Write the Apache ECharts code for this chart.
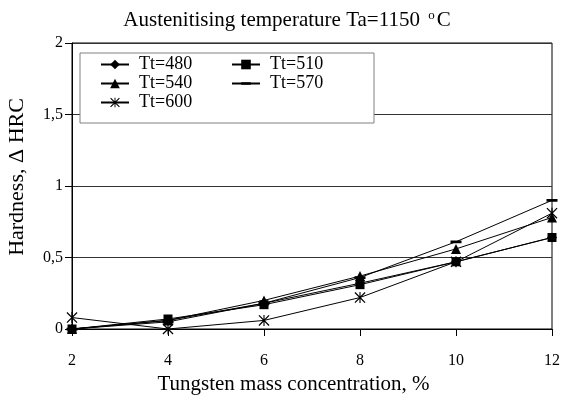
<!DOCTYPE html>
<html>
<head>
<meta charset="utf-8">
<script src="https://cdn.jsdelivr.net/npm/echarts@6/dist/echarts.min.js"></script>
<style>
  html, body { margin: 0; padding: 0; background: #fff; }
  #chart { width: 564px; height: 395px; }
</style>
</head>
<body>
<div id="chart"></div>
<script>
// Tungsten mass concentration, %
const tungsten = [2, 4, 6, 8, 10, 12];

// Hardness increase, delta HRC, for each tempering temperature Tt
const tt480 = [0, 0.06, 0.18, 0.32, 0.47, 0.64];
const tt510 = [0, 0.07, 0.17, 0.31, 0.47, 0.64];
const tt540 = [0, 0.06, 0.20, 0.37, 0.56, 0.78];
const tt570 = [0, 0.05, 0.18, 0.36, 0.61, 0.90];
const tt600 = [0.08, 0, 0.06, 0.22, 0.47, 0.81];

const seriesNames = ['Tt=480', 'Tt=510', 'Tt=540', 'Tt=570', 'Tt=600'];
const yTicks = [0, 0.5, 1, 1.5, 2];

const FONT = '"Liberation Serif", "Times New Roman", serif';

// asterisk marker: vertical bar plus two diagonals
const asterisk = 'path://M4.5 0L5.5 0L5.5 10L4.5 10Z M0 0.8L0.8 0L10 9.2L9.2 10Z M9.2 0L10 0.8L0.8 10L0 9.2Z';
// flat dash marker; the two specks pin the 10x10 box so it keeps its shape
const dash = 'path://M0 0L0.01 0L0 0.01Z M0 3.8L10 3.8L10 6.4L0 6.4Z M10 10L9.99 10L10 9.99Z';

const markers = [
  { symbol: 'diamond', size: 10 },
  { symbol: 'rect', size: 9 },
  { symbol: 'triangle', size: 10 },
  { symbol: dash, size: 11 },
  { symbol: asterisk, size: 11 }
];

const values = [tt480, tt510, tt540, tt570, tt600];

const series = values.map((vals, i) => ({
  name: seriesNames[i],
  type: 'line',
  data: tungsten.map((x, j) => [x, vals[j]]),
  symbol: markers[i].symbol,
  symbolSize: markers[i].size,
  showAllSymbol: true,
  lineStyle: { color: '#000', width: 1 },
  itemStyle: { color: '#000' },
  emphasis: { disabled: true },
  animation: false
}));

const chart = echarts.init(document.getElementById('chart'), null, { renderer: 'canvas' });

chart.setOption({
  backgroundColor: '#fff',
  animation: false,
  title: {
    text: 'Austenitising temperature Ta=1150 {s|o}C',
    left: 282,
    top: 4,
    textAlign: 'center',
    textStyle: {
      fontFamily: FONT,
      fontSize: 21,
      fontWeight: 'normal',
      color: '#000',
      rich: {
        s: { fontFamily: FONT, fontSize: 13, color: '#000', verticalAlign: 'top', padding: [0, 2, 10, 3] }
      }
    }
  },
  legend: {
    data: seriesNames,
    left: 80,
    top: 53,
    width: 300,
    orient: 'horizontal',
    backgroundColor: '#fff',
    borderColor: '#808080',
    borderWidth: 1,
    padding: [2, 12, 11, 20],
    itemWidth: 28,
    itemHeight: 12,
    itemGap: 0,
    textStyle: {
      fontFamily: FONT, fontSize: 18, color: '#000',
      width: 92, lineHeight: 19, padding: [0, 0, 0, 5]
    }
  },
  grid: {
    left: 72,
    right: 12,
    top: 43,
    bottom: 66,
    outerBoundsMode: 'none',
    containLabel: false,
    show: true,
    borderColor: '#000',
    borderWidth: 1,
    backgroundColor: 'transparent'
  },
  xAxis: {
    type: 'value',
    min: 2,
    max: 12,
    interval: 2,
    name: 'Tungsten mass concentration, %',
    nameLocation: 'middle',
    nameGap: 39,
    nameTextStyle: { fontFamily: FONT, fontSize: 21, color: '#000', padding: [0, 37, 0, 0] },
    axisLine: { lineStyle: { color: '#000', width: 1 } },
    axisTick: { show: true, inside: false, length: 7, lineStyle: { color: '#000' } },
    axisLabel: { fontFamily: FONT, fontSize: 16, color: '#000', margin: 24 },
    splitLine: { show: false }
  },
  yAxis: {
    type: 'value',
    min: yTicks[0],
    max: yTicks[yTicks.length - 1],
    interval: 0.5,
    name: 'Hardness, \u0394 HRC',
    nameLocation: 'middle',
    nameGap: 44,
    nameRotate: 90,
    nameTextStyle: { fontFamily: FONT, fontSize: 22, color: '#000', padding: [0, 0, 0, 18] },
    axisLine: { show: true, lineStyle: { color: '#000', width: 1 } },
    axisTick: { show: true, inside: false, length: 7, lineStyle: { color: '#000' } },
    axisLabel: {
      fontFamily: FONT, fontSize: 16, color: '#000', margin: 9,
      formatter: v => String(v).replace('.', ',')
    },
    splitLine: { show: true, lineStyle: { color: '#333', width: 1 } }
  },
  series: series
});
</script>
</body>
</html>
